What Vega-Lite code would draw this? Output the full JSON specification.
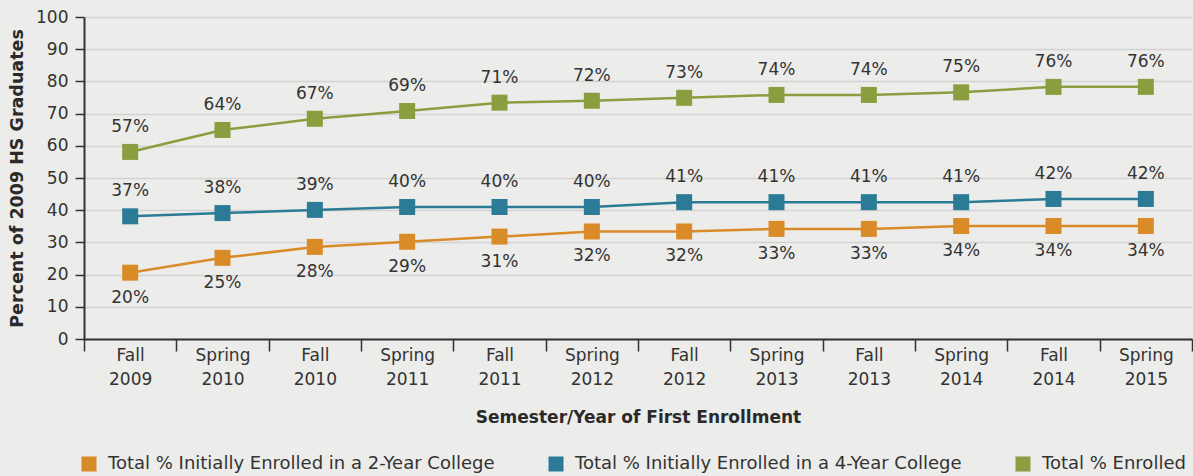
{
  "$schema": "https://vega.github.io/schema/vega-lite/v6.json",
  "autosize": {"type": "none"},
  "width": 1108,
  "height": 322,
  "padding": {"left": 84, "top": 17, "right": 1, "bottom": 137},
  "background": "#ececea",
  "config": {
    "view": {"stroke": null},
    "font": "DejaVu Sans",
    "axis": {"labelFont": "DejaVu Sans", "titleFont": "DejaVu Sans", "labelColor": "#333333", "titleColor": "#2a2a2a"},
    "legend": {"labelFont": "DejaVu Sans"}
  },
  "data": {
    "values": [
      {"semester": "Fall 2009", "series": "Total % Initially Enrolled in a 2-Year College", "value": 20.6, "label": "20%"},
      {"semester": "Spring 2010", "series": "Total % Initially Enrolled in a 2-Year College", "value": 25.2, "label": "25%"},
      {"semester": "Fall 2010", "series": "Total % Initially Enrolled in a 2-Year College", "value": 28.6, "label": "28%"},
      {"semester": "Spring 2011", "series": "Total % Initially Enrolled in a 2-Year College", "value": 30.2, "label": "29%"},
      {"semester": "Fall 2011", "series": "Total % Initially Enrolled in a 2-Year College", "value": 31.8, "label": "31%"},
      {"semester": "Spring 2012", "series": "Total % Initially Enrolled in a 2-Year College", "value": 33.4, "label": "32%"},
      {"semester": "Fall 2012", "series": "Total % Initially Enrolled in a 2-Year College", "value": 33.4, "label": "32%"},
      {"semester": "Spring 2013", "series": "Total % Initially Enrolled in a 2-Year College", "value": 34.2, "label": "33%"},
      {"semester": "Fall 2013", "series": "Total % Initially Enrolled in a 2-Year College", "value": 34.2, "label": "33%"},
      {"semester": "Spring 2014", "series": "Total % Initially Enrolled in a 2-Year College", "value": 35.1, "label": "34%"},
      {"semester": "Fall 2014", "series": "Total % Initially Enrolled in a 2-Year College", "value": 35.1, "label": "34%"},
      {"semester": "Spring 2015", "series": "Total % Initially Enrolled in a 2-Year College", "value": 35.1, "label": "34%"},
      {"semester": "Fall 2009", "series": "Total % Initially Enrolled in a 4-Year College", "value": 38.1, "label": "37%"},
      {"semester": "Spring 2010", "series": "Total % Initially Enrolled in a 4-Year College", "value": 39.1, "label": "38%"},
      {"semester": "Fall 2010", "series": "Total % Initially Enrolled in a 4-Year College", "value": 40.1, "label": "39%"},
      {"semester": "Spring 2011", "series": "Total % Initially Enrolled in a 4-Year College", "value": 41.0, "label": "40%"},
      {"semester": "Fall 2011", "series": "Total % Initially Enrolled in a 4-Year College", "value": 41.0, "label": "40%"},
      {"semester": "Spring 2012", "series": "Total % Initially Enrolled in a 4-Year College", "value": 41.0, "label": "40%"},
      {"semester": "Fall 2012", "series": "Total % Initially Enrolled in a 4-Year College", "value": 42.5, "label": "41%"},
      {"semester": "Spring 2013", "series": "Total % Initially Enrolled in a 4-Year College", "value": 42.5, "label": "41%"},
      {"semester": "Fall 2013", "series": "Total % Initially Enrolled in a 4-Year College", "value": 42.5, "label": "41%"},
      {"semester": "Spring 2014", "series": "Total % Initially Enrolled in a 4-Year College", "value": 42.5, "label": "41%"},
      {"semester": "Fall 2014", "series": "Total % Initially Enrolled in a 4-Year College", "value": 43.5, "label": "42%"},
      {"semester": "Spring 2015", "series": "Total % Initially Enrolled in a 4-Year College", "value": 43.5, "label": "42%"},
      {"semester": "Fall 2009", "series": "Total % Enrolled", "value": 58.1, "label": "57%"},
      {"semester": "Spring 2010", "series": "Total % Enrolled", "value": 64.9, "label": "64%"},
      {"semester": "Fall 2010", "series": "Total % Enrolled", "value": 68.4, "label": "67%"},
      {"semester": "Spring 2011", "series": "Total % Enrolled", "value": 70.8, "label": "69%"},
      {"semester": "Fall 2011", "series": "Total % Enrolled", "value": 73.4, "label": "71%"},
      {"semester": "Spring 2012", "series": "Total % Enrolled", "value": 74.0, "label": "72%"},
      {"semester": "Fall 2012", "series": "Total % Enrolled", "value": 74.9, "label": "73%"},
      {"semester": "Spring 2013", "series": "Total % Enrolled", "value": 75.8, "label": "74%"},
      {"semester": "Fall 2013", "series": "Total % Enrolled", "value": 75.8, "label": "74%"},
      {"semester": "Spring 2014", "series": "Total % Enrolled", "value": 76.6, "label": "75%"},
      {"semester": "Fall 2014", "series": "Total % Enrolled", "value": 78.3, "label": "76%"},
      {"semester": "Spring 2015", "series": "Total % Enrolled", "value": 78.3, "label": "76%"}
    ]
  },
  "encoding": {
    "x": {
      "field": "semester", "type": "nominal", "sort": null,
      "scale": {"type": "band", "paddingInner": 0, "paddingOuter": 0},
      "axis": {
        "title": "Semester/Year of First Enrollment",
        "titleFontSize": 17, "titleFontWeight": "bold", "titlePadding": 22,
        "labelAngle": 0, "labelFontSize": 17, "labelLineHeight": 24, "labelPadding": -4,
        "labelExpr": "isValid(datum.value) ? split(datum.value, ' ') : ''",
        "tickBand": "extent", "tickSize": 12, "tickColor": "#333333", "tickWidth": 1.5,
        "domainColor": "#333333", "domainWidth": 2, "grid": false
      }
    },
    "y": {
      "field": "value", "type": "quantitative",
      "scale": {"domain": [0, 100], "nice": false},
      "axis": {
        "title": "Percent of 2009 HS Graduates",
        "titleFontSize": 17.5, "titleFontWeight": "bold", "titlePadding": 9,
        "values": [0, 10, 20, 30, 40, 50, 60, 70, 80, 90, 100],
        "labelFontSize": 17, "labelPadding": 7, "tickSize": 9, "tickColor": "#333333", "tickWidth": 1.5,
        "domainColor": "#333333", "domainWidth": 2,
        "grid": true, "gridColor": "#d2d2d2", "gridWidth": 1.5
      }
    },
    "color": {
      "field": "series", "type": "nominal",
      "scale": {
        "domain": ["Total % Initially Enrolled in a 2-Year College", "Total % Initially Enrolled in a 4-Year College", "Total % Enrolled"],
        "range": ["#d98b27", "#2b7b96", "#8a9e3f"]
      },
      "legend": {
        "title": null, "orient": "none", "direction": "horizontal",
        "legendX": -4, "legendY": 438,
        "symbolType": "square", "symbolSize": 225, "symbolStrokeWidth": 0,
        "labelFontSize": 18, "labelColor": "#333333", "labelLimit": 600,
        "labelOffset": 10, "columnPadding": 52
      }
    }
  },
  "layer": [
    {"mark": {"type": "line", "strokeWidth": 2.5}},
    {"mark": {"type": "point", "shape": "square", "filled": true, "size": 256, "opacity": 1}},
    {
      "transform": [{"filter": "datum.series === 'Total % Initially Enrolled in a 2-Year College'"}],
      "mark": {"type": "text", "dy": 25, "fontSize": 17, "color": "#333333"},
      "encoding": {"text": {"field": "label"}, "color": {"value": "#333333"}}
    },
    {
      "transform": [{"filter": "datum.series !== 'Total % Initially Enrolled in a 2-Year College'"}],
      "mark": {"type": "text", "dy": -25, "fontSize": 17, "color": "#333333"},
      "encoding": {"text": {"field": "label"}, "color": {"value": "#333333"}}
    }
  ]
}
